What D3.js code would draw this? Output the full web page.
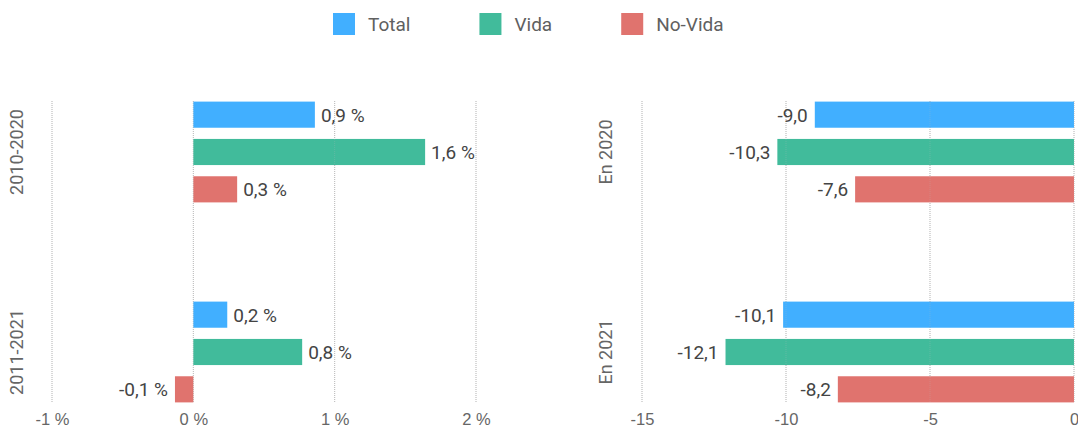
<!DOCTYPE html>
<html>
<head>
<meta charset="utf-8">
<script src="https://cdn.jsdelivr.net/npm/d3@7"></script>
<style>
  body { margin: 0; background: #fff; }
  svg { display: block; font-family: Roboto, sans-serif; }
</style>
</head>
<body>
<svg id="chart" width="1078" height="431"></svg>
<script>
// data
const series = ["Total", "Vida", "No-Vida"];
const colors = ["#41AFFF", "#41BB9B", "#E0736E"];

const leftCategories = ["2010-2020", "2011-2021"];
const leftTotal = [0.86, 0.24];
const leftVida = [1.64, 0.77];
const leftNoVida = [0.31, -0.13];
const leftTicks = [-1, 0, 1, 2];

const rightCategories = ["En 2020", "En 2021"];
const rightTotal = [-9.0, -10.1];
const rightVida = [-10.3, -12.1];
const rightNoVida = [-7.6, -8.2];
const rightTicks = [-15, -10, -5, 0];

const svg = d3.select("#chart");
const comma = (f) => (v) => f(v).replace(".", ",").replace("−", "-");

// legend
const legend = svg.append("g").attr("transform", "translate(333, 13)");
let lx = 0;
series.forEach((s, i) => {
	const g = legend.append("g").attr("transform", `translate(${lx},0)`);
	g.append("rect").attr("width", 22).attr("height", 22).attr("fill", colors[i]);
	const t = g.append("text")
		.attr("x", 35).attr("y", 18)
		.attr("font-size", 19).attr("fill", "#606060")
		.text(s);
	lx += 35 + t.node().getComputedTextLength() + 69;
});

const y = d3.scaleBand().domain([0, 1]).range([96, 408]).paddingInner(0.44).paddingOuter(0);
const yInner = d3.scaleBand().domain(series).range([0, y.bandwidth()]).paddingInner(0.3).paddingOuter(0.15);

function panel(opts) {
	const x = d3.scaleLinear().domain(opts.domain).range(opts.range);
	const g = svg.append("g");
	const rows = [];
	opts.categories.forEach((c, ci) => {
		opts.values.forEach((vals, si) => {
			rows.push({cat: ci, s: series[si], color: colors[si], v: vals[ci]});
		});
	});

	// gridlines
	const grid = (sel, op) => sel.selectAll(null)
		.data(opts.ticks)
		.enter().append("line")
			.attr("x1", (d) => x(d)).attr("x2", (d) => x(d))
			.attr("y1", 101).attr("y2", 402)
			.attr("stroke", "#bbb")
			.attr("stroke-dasharray", "1,1")
			.attr("opacity", op);
	grid(g.append("g"), 1);

	g.append("g").selectAll("rect")
		.data(rows)
		.enter().append("rect")
			.attr("x", (d) => x(Math.min(0, d.v)))
			.attr("width", (d) => Math.abs(x(d.v) - x(0)))
			.attr("y", (d) => y(d.cat) + yInner(d.s))
			.attr("height", yInner.bandwidth())
			.attr("fill", (d) => d.color);

	grid(g.append("g"), 0.25);

	// data labels
	g.append("g").selectAll("text")
		.data(rows)
		.enter().append("text")
			.attr("x", (d) => d.v >= 0 ? x(d.v) + 6 : x(d.v) - 7)
			.attr("y", (d) => y(d.cat) + yInner(d.s) + yInner.bandwidth() / 2)
			.attr("dy", "0.36em")
			.attr("text-anchor", (d) => d.v >= 0 ? "start" : "end")
			.attr("font-size", 19)
			.attr("fill", "#444")
			.text((d) => opts.label(d.v));

	// x axis
	const ax = g.append("g")
		.attr("transform", "translate(0, 425)")
		.call(d3.axisBottom(x).tickValues(opts.ticks).tickSize(0).tickPadding(0).tickFormat(opts.tick));
	ax.select(".domain").remove();
	ax.selectAll("text")
		.attr("font-family", null)
		.attr("font-size", 16.5)
		.attr("fill", "#666")
		.attr("dy", 0);

	// category labels
	g.append("g").selectAll("text")
		.data(opts.categories)
		.enter().append("text")
			.attr("transform", (d, i) => `translate(${opts.catX}, ${y(i) + y.bandwidth() / 2}) rotate(-90)`)
			.attr("text-anchor", "middle")
			.attr("font-size", 18)
			.attr("fill", "#666")
			.text((d) => d);
}

panel({
	categories: leftCategories,
	values: [leftTotal, leftVida, leftNoVida],
	domain: [-1, 2], range: [52, 476],
	ticks: leftTicks,
	label: (v) => comma(d3.format(".1f"))(v) + " %",
	tick: (v) => comma(d3.format("d"))(v) + " %",
	catX: 23
});

panel({
	categories: rightCategories,
	values: [rightTotal, rightVida, rightNoVida],
	domain: [-15, 0], range: [642, 1074],
	ticks: rightTicks,
	label: comma(d3.format(".1f")),
	tick: comma(d3.format("d")),
	catX: 612
});
</script>
</body>
</html>
